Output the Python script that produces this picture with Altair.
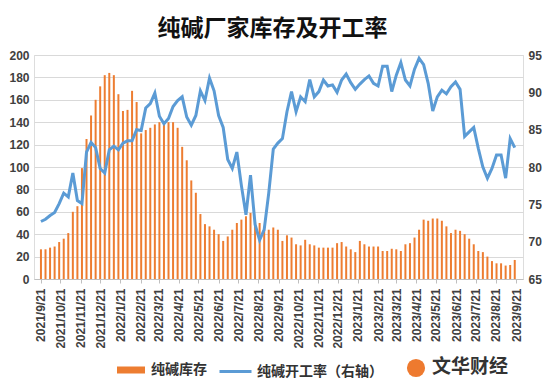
import altair as alt
import pandas as pd

# weekly soda ash inventory (left axis, 万吨) and operating rate (right axis, %)
inventory = [26.5, 26.5, 28, 29, 33, 36, 41, 60, 65, 99,
             125, 146, 160, 172, 182, 184, 182, 165, 150, 151,
             168, 158, 130, 133, 135, 138, 140, 140, 140, 140,
             135, 118, 106, 88, 77, 58, 49, 47, 44, 40,
             34, 38, 44, 50, 53, 56, 59, 51, 50, 44,
             44, 46, 44, 34, 39, 37, 31, 30, 35, 31,
             30, 28, 28, 28, 28, 32, 33, 29, 26.5, 24,
             34, 31, 29, 29, 29, 25, 25, 27, 26.5, 25,
             31, 32, 37, 44, 53, 52, 54, 54, 52, 47,
             41, 44, 43, 40, 36, 31, 25, 24, 20, 16,
             14, 14, 12, 12.5, 17]
rate = [72.7, 73.0, 73.5, 73.9, 75.1, 76.5, 76.0, 79.2, 75.5, 75.1,
        82.0, 83.3, 82.6, 79.8, 79.2, 82.3, 82.8, 82.3, 83.2, 83.5,
        83.5, 85.0, 84.9, 87.9, 88.5, 89.9, 86.8, 85.8, 86.5, 88.1,
        88.9, 89.4, 86.7, 85.6, 86.9, 90.2, 88.9, 91.9, 90.2, 86.9,
        85.3, 81.0, 79.8, 82.0, 77.5, 73.6, 78.9, 72.3, 70.2, 71.6,
        76.5, 82.4, 83.2, 83.8, 87.4, 90.1, 87.4, 89.4, 88.75, 91.7,
        89.4, 90.1, 91.65, 90.85, 91.0, 90.0, 91.65, 92.45, 91.3, 90.4,
        91.1, 91.7, 92.2, 91.2, 90.85, 93.5, 93.5, 90.1, 92.3, 94.0,
        91.65, 90.85, 93.1, 94.55, 93.7, 91.2, 87.5, 89.4, 90.3, 89.8,
        90.75, 91.4, 90.4, 84.1, 84.7, 85.3, 82.5, 80.0, 78.5, 79.8,
        81.6, 81.6, 78.5, 83.8, 82.6]

start = pd.Timestamp("2021-09-21")
dates = [(start + pd.Timedelta(days=7 * i)).strftime("%Y-%m-%dT00:00:00")
         for i in range(len(inventory))]

month_ticks = []
for y, m in [(2021, mm) for mm in range(9, 13)] + [(2022, mm) for mm in range(1, 13)] + [(2023, mm) for mm in range(1, 10)]:
    month_ticks.append(alt.DateTime(year=y, month=m, date=21))

left_ticks = list(range(0, 201, 20))
right_ticks = list(range(65, 96, 5))

series_inv = "纯碱库存"
series_rate = "纯碱开工率（右轴）"

df = pd.DataFrame({
    "date": dates,
    "inventory": inventory,
    "rate": rate,
    "s1": series_inv,
    "s2": series_rate,
})

LABEL_FONT = "Liberation Sans"
CJK = "Noto Sans CJK SC"

x_enc = alt.X(
    "date:T",
    title=None,
    scale=alt.Scale(domain=[alt.DateTime(year=2021, month=9, date=18),
                            alt.DateTime(year=2023, month=9, date=24)]),
    axis=alt.Axis(values=month_ticks, format="%Y/%-m/%-d", labelAngle=270,
                  labelAlign="right", labelBaseline="middle",
                  labelOverlap=False, labelFlush=False,
                  labelFont=LABEL_FONT, labelFontSize=12, labelFontWeight="bold",
                  labelColor="#404040", labelPadding=5,
                  domain=True, domainColor="#BFBFBF", ticks=True,
                  tickColor="#BFBFBF", tickSize=4, grid=False),
)

bars = alt.Chart(df).mark_bar(width=2).encode(
    x=x_enc,
    y=alt.Y("inventory:Q", title=None,
            scale=alt.Scale(domain=[0, 200], nice=False),
            axis=alt.Axis(values=left_ticks, grid=True, gridColor="#D9D9D9",
                          domain=False, ticks=False, tickSize=0, labelPadding=5,
                          labelFont=LABEL_FONT, labelFontSize=12,
                          labelFontWeight="bold", labelColor="#404040")),
    color=alt.Color("s1:N", scale=alt.Scale(domain=[series_inv], range=["#ED7D31"]),
                    legend=alt.Legend(title=None, orient="none", legendX=83, legendY=301,
                                      symbolType="M-1,-0.25L1,-0.25L1,0.25L-1,0.25Z",
                                      symbolSize=784, symbolStrokeWidth=0,
                                      labelFont=CJK, labelFontSize=14, labelFontWeight="bold",
                                      labelColor="#333333", labelOffset=6, padding=0)),
)

line = alt.Chart(df).mark_line(strokeWidth=3).encode(
    x=x_enc,
    y=alt.Y("rate:Q", title=None,
            scale=alt.Scale(domain=[65, 95], nice=False),
            axis=alt.Axis(orient="right", values=right_ticks, grid=False,
                          domain=False, ticks=False, tickSize=0, labelPadding=5,
                          labelFont=LABEL_FONT, labelFontSize=12,
                          labelFontWeight="bold", labelColor="#404040")),
    color=alt.Color("s2:N", scale=alt.Scale(domain=[series_rate], range=["#5B9BD5"]),
                    legend=alt.Legend(title=None, orient="none", legendX=184, legendY=299,
                                      symbolType="stroke", symbolSize=1024,
                                      symbolStrokeWidth=3,
                                      labelFont=CJK, labelFontSize=14, labelFontWeight="bold",
                                      labelColor="#333333", labelOffset=4, padding=0)),
)

logo_df = pd.DataFrame({"t": ["文华财经"]})
logo_circle = alt.Chart(logo_df).mark_circle(size=330, color="#EE7A2F", opacity=1).encode(
    x=alt.value(382), y=alt.value(313))
logo_text = alt.Chart(logo_df).mark_text(font=CJK, fontSize=19, fontWeight="bold",
                                         color="#333333", align="left",
                                         baseline="middle").encode(
    x=alt.value(398), y=alt.value(312), text="t:N")

chart = alt.layer(bars, line, logo_circle, logo_text).resolve_scale(
    y="independent", color="independent"
).properties(
    width=489, height=224,
    autosize=alt.AutoSizeParams(type="none"),
    padding={"left": 26, "top": 47, "right": 19, "bottom": 100},
    title=alt.Title("纯碱厂家库存及开工率", font=CJK, fontSize=23, fontWeight="bold",
                    color="#111111", anchor="middle", offset=8, dx=-6),
).configure_view(stroke=None).configure(background="white")

chart.save("out.html", embed_options={"renderer": "svg", "actions": False})
